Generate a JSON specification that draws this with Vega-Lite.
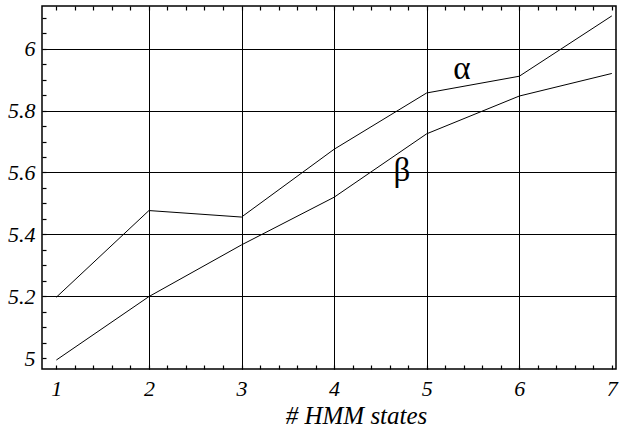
{
  "$schema": "https://vega.github.io/schema/vega-lite/v6.json",
  "width": 574,
  "height": 363,
  "autosize": {"type": "none"},
  "padding": {"left": 42, "top": 6, "right": 6, "bottom": 61},
  "background": "white",
  "config": {
    "view": {"stroke": "black", "strokeWidth": 1.5},
    "axis": {
      "labelFont": "'Liberation Serif', 'Times New Roman', serif",
      "labelFontStyle": "italic",
      "labelFontSize": 22,
      "labelColor": "black",
      "titleFont": "'Liberation Serif', 'Times New Roman', serif",
      "titleFontStyle": "italic",
      "titleFontWeight": "normal",
      "titleFontSize": 25,
      "titleColor": "black",
      "domain": false,
      "tickColor": "black",
      "gridColor": "black",
      "gridWidth": 1,
      "gridOpacity": 1
    }
  },
  "datasets": {
    "series": [
      {"n": 1, "v": 5.197, "s": "alpha"},
      {"n": 2, "v": 5.477, "s": "alpha"},
      {"n": 3, "v": 5.456, "s": "alpha"},
      {"n": 4, "v": 5.675, "s": "alpha"},
      {"n": 5, "v": 5.857, "s": "alpha"},
      {"n": 6, "v": 5.911, "s": "alpha"},
      {"n": 7, "v": 6.106, "s": "alpha"},
      {"n": 1, "v": 4.994, "s": "beta"},
      {"n": 2, "v": 5.199, "s": "beta"},
      {"n": 3, "v": 5.366, "s": "beta"},
      {"n": 4, "v": 5.52, "s": "beta"},
      {"n": 5, "v": 5.725, "s": "beta"},
      {"n": 6, "v": 5.847, "s": "beta"},
      {"n": 7, "v": 5.92, "s": "beta"}
    ],
    "labels": [
      {"n": 5.38, "v": 5.935, "t": "α"},
      {"n": 4.733, "v": 5.605, "t": "β"}
    ]
  },
  "layer": [
    {
      "data": {"name": "series"},
      "mark": {"type": "line", "color": "black", "strokeWidth": 1},
      "encoding": {
        "x": {
          "field": "n", "type": "quantitative",
          "scale": {"domain": [0.845, 7.045], "nice": false, "zero": false},
          "axis": {
            "orient": "bottom",
            "values": [1, 2, 3, 4, 5, 6, 7],
            "grid": true,
            "gridOpacity": {"condition": {"test": "datum.value == 1 || datum.value == 7", "value": 0}, "value": 1},
            "ticks": false,
            "labelPadding": 9,
            "title": "# HMM states",
            "titleX": 314,
            "titlePadding": 4
          }
        },
        "y": {
          "field": "v", "type": "quantitative",
          "scale": {"domain": [4.965, 6.138], "nice": false, "zero": false},
          "axis": {
            "orient": "left",
            "values": [5, 5.2, 5.4, 5.6, 5.8, 6],
            "format": "~g",
            "grid": true,
            "gridOpacity": {"condition": {"test": "datum.value == 5", "value": 0}, "value": 1},
            "ticks": false,
            "labelPadding": 7,
            "title": null
          }
        },
        "detail": {"field": "s", "type": "nominal"}
      }
    },
    {
      "data": {"name": "labels"},
      "mark": {"type": "text", "font": "'Liberation Serif', 'Times New Roman', serif", "fontSize": 33, "color": "black", "baseline": "middle", "align": "center"},
      "encoding": {
        "x": {
          "field": "n", "type": "quantitative",
          "axis": {
            "orient": "bottom",
            "values": [1, 1.2, 1.4, 1.6, 1.8, 2, 2.2, 2.4, 2.6, 2.8, 3, 3.2, 3.4, 3.6, 3.8, 4, 4.2, 4.4, 4.6, 4.8, 5, 5.2, 5.4, 5.6, 5.8, 6, 6.2, 6.4, 6.6, 6.8, 7],
            "labels": false, "grid": false, "ticks": true, "tickSize": 4, "tickWidth": 1.2, "offset": -4, "title": null
          }
        },
        "y": {
          "field": "v", "type": "quantitative",
          "axis": {
            "orient": "left",
            "values": [5, 5.05, 5.1, 5.15, 5.2, 5.25, 5.3, 5.35, 5.4, 5.45, 5.5, 5.55, 5.6, 5.65, 5.7, 5.75, 5.8, 5.85, 5.9, 5.95, 6, 6.05, 6.1],
            "labels": false, "grid": false, "ticks": true, "tickSize": 4, "tickWidth": 1.2, "offset": -4, "title": null
          }
        },
        "text": {"field": "t", "type": "nominal"}
      }
    },
    {
      "data": {"name": "labels"},
      "mark": {"type": "point", "opacity": 0},
      "encoding": {
        "x": {
          "field": "n", "type": "quantitative",
          "axis": {
            "orient": "top",
            "values": [1, 1.2, 1.4, 1.6, 1.8, 2, 2.2, 2.4, 2.6, 2.8, 3, 3.2, 3.4, 3.6, 3.8, 4, 4.2, 4.4, 4.6, 4.8, 5, 5.2, 5.4, 5.6, 5.8, 6, 6.2, 6.4, 6.6, 6.8, 7],
            "labels": false, "grid": false, "ticks": true, "tickSize": 4, "tickWidth": 1.2, "offset": -4, "title": null
          }
        },
        "y": {"field": "v", "type": "quantitative", "axis": null}
      }
    }
  ],
  "resolve": {"axis": {"x": "independent", "y": "independent"}}
}
